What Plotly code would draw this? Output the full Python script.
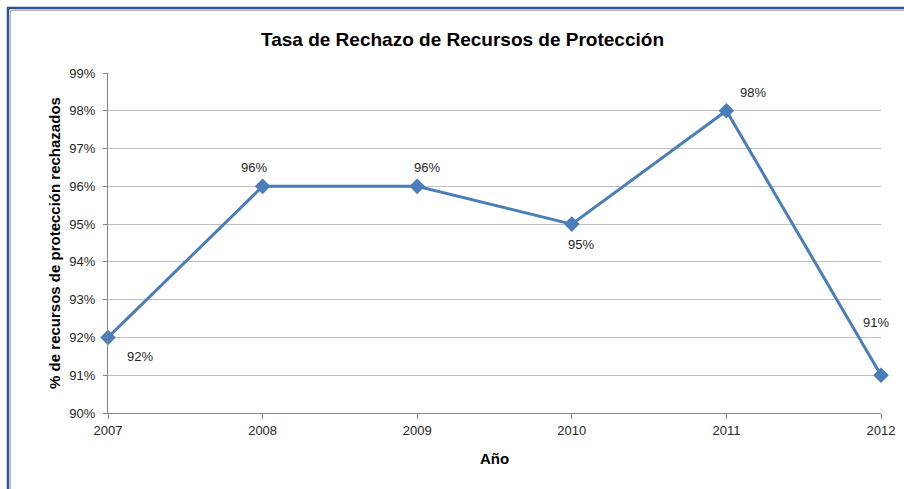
import plotly.graph_objects as go

years = [2007, 2008, 2009, 2010, 2011, 2012]
rates = [0.92, 0.96, 0.96, 0.95, 0.98, 0.91]
label_text = ["92%", "96%", "96%", "95%", "98%", "91%"]
label_dx = [32, -9, 10, 9, 27, -5]
label_dy = [-19, 19, 19, -20, 18, 53]

title_text = "Tasa de Rechazo de Recursos de Protección"
x_title = "Año"
y_title = "% de recursos de protección rechazados"

FONT = "Liberation Sans, Arial"
W, H = 904, 489
L, R, T, B = 108, 23, 73, 76
pw, ph = W - L - R, H - T - B

fig = go.Figure()
fig.add_trace(go.Scatter(
    x=years, y=rates, mode="lines+markers",
    line=dict(color="#4A7EBB", width=3),
    marker=dict(symbol="diamond", size=12, color="#4A7EBB"),
    cliponaxis=False, hoverinfo="skip", showlegend=False,
))

for x, y, t, dx, dy in zip(years, rates, label_text, label_dx, label_dy):
    fig.add_annotation(x=x, y=y, text=t, showarrow=False, xshift=dx, yshift=dy,
                       font=dict(family=FONT, size=13, color="#262626"))

def px_x(p):
    return (p - L) / pw

def px_y(p):
    return 1 - (p - T) / ph

# outer frame
fig.add_shape(type="rect", xref="paper", yref="paper",
              x0=px_x(8), x1=px_x(1000), y0=px_y(1000), y1=px_y(8),
              line=dict(color="#2F5590", width=2.5), layer="below")
fig.add_shape(type="rect", xref="paper", yref="paper",
              x0=px_x(10.3), x1=px_x(1000), y0=px_y(1000), y1=px_y(10.3),
              line=dict(color="#A6A6A6", width=1), layer="below")

fig.update_layout(
    width=W, height=H,
    margin=dict(l=L, r=R, t=T, b=B, autoexpand=False),
    paper_bgcolor="white", plot_bgcolor="white",
    font=dict(family=FONT, size=13, color="#262626"),
    title=dict(text="<b>" + title_text + "</b>", x=(263 + 662) / 2 / W, xanchor="center",
               y=1 - 39 / H, yanchor="middle",
               font=dict(family=FONT, size=19, color="#000000")),
    xaxis=dict(range=[2007, 2012], tickmode="array", tickvals=years,
               ticktext=[str(y) for y in years],
               showgrid=False, zeroline=False, showline=True, linecolor="#868686",
               linewidth=1, ticks="outside", ticklen=5, tickcolor="#868686",
               tickfont=dict(size=13, color="#262626"),
               title=dict(text="<b>" + x_title + "</b>", standoff=16,
                          font=dict(size=15, color="#000000"))),
    yaxis=dict(range=[0.90, 0.99], dtick=0.01, tickformat=".0%",
               showgrid=True, gridcolor="#BFBFBF", gridwidth=1, zeroline=False,
               showline=True, linecolor="#868686", linewidth=1,
               ticks="outside", ticklen=4, tickcolor="#868686",
               ticklabelstandoff=5,
               tickfont=dict(size=13, color="#262626"),
               title=dict(text="<b>" + y_title + "</b>", standoff=5,
                          font=dict(size=15, color="#000000"))),
)

fig.write_html("out.html", config={"displayModeBar": False},
               post_script="document.body.style.margin='0';")
